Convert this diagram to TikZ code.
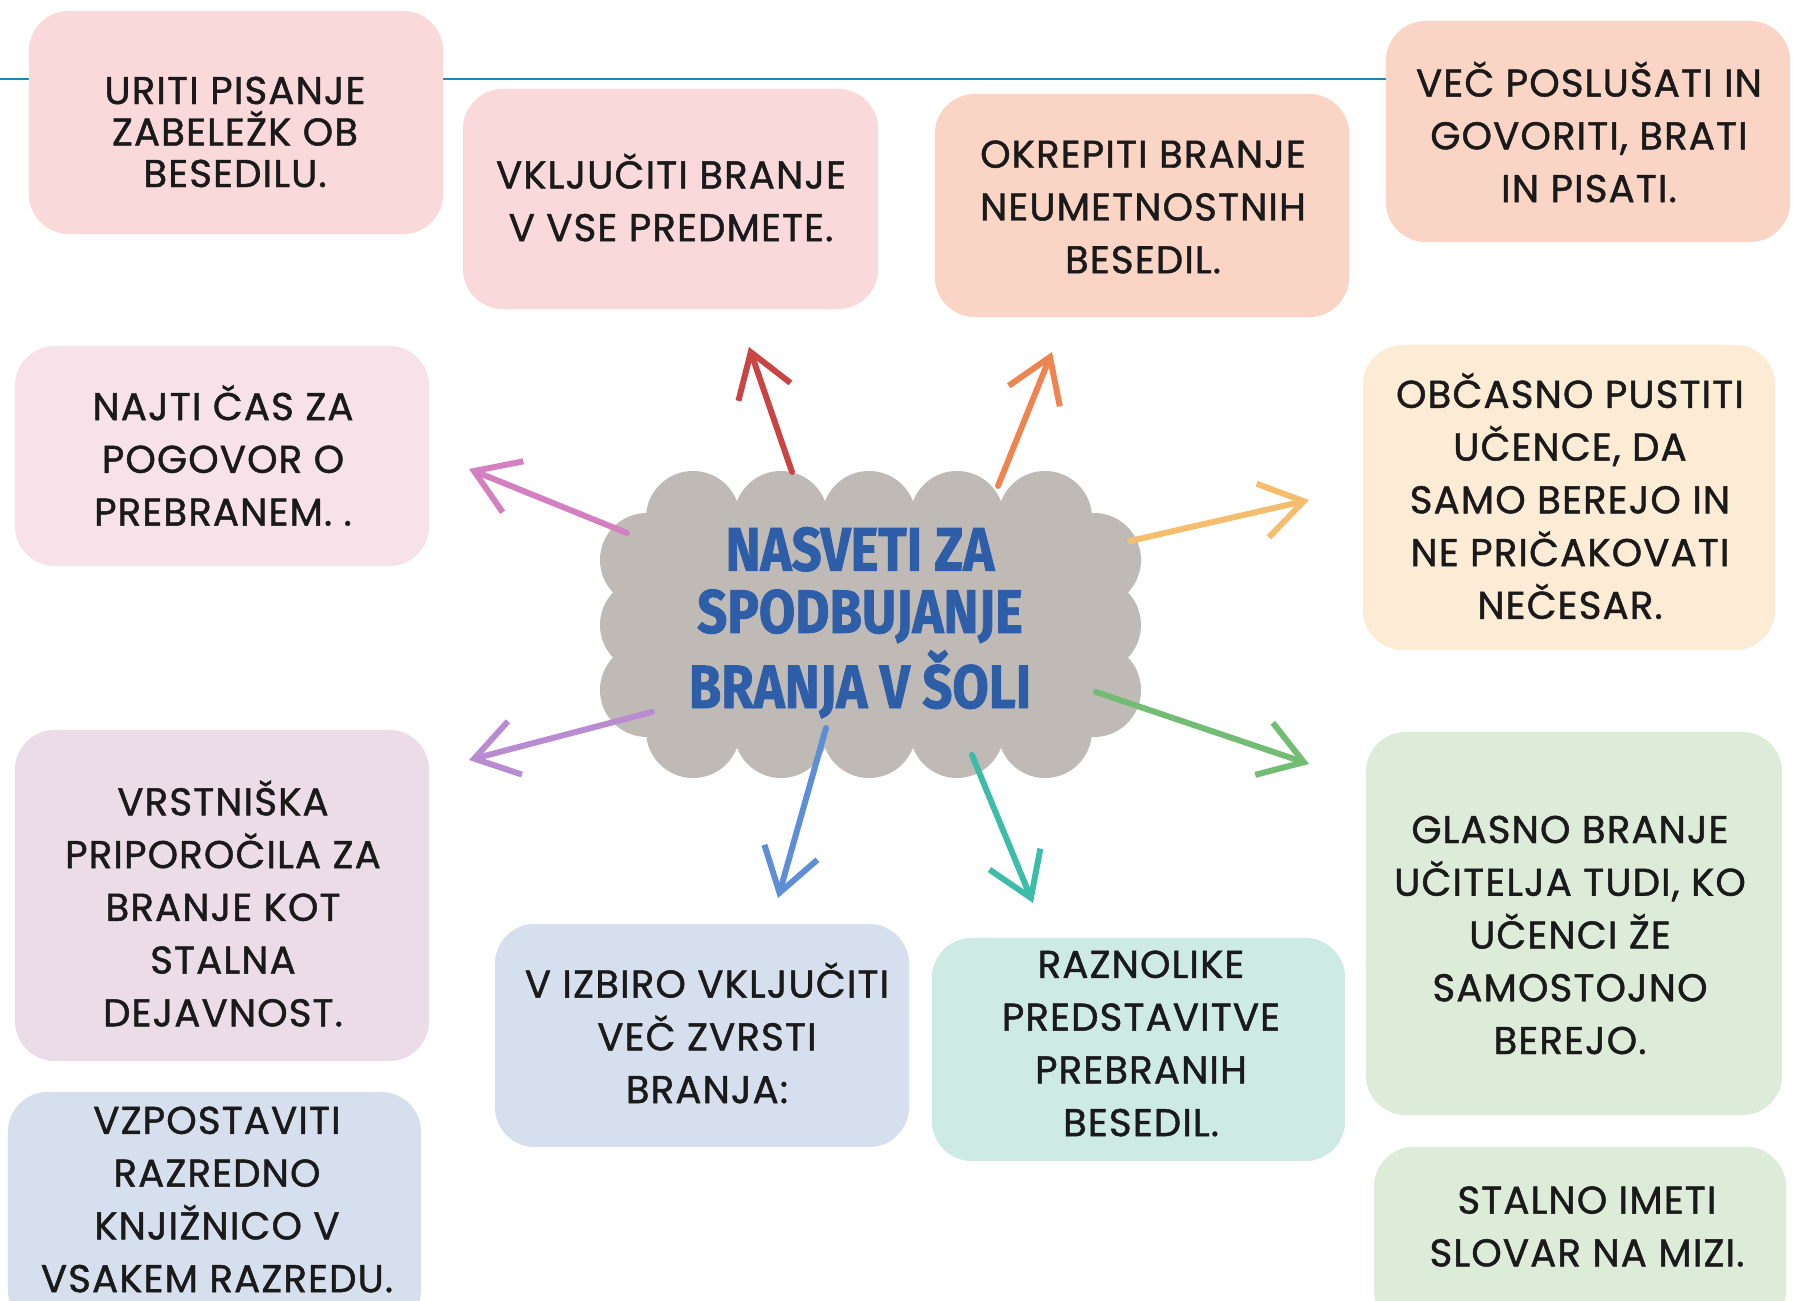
\documentclass[tikz,border=0pt]{standalone}
\usepackage{fontspec}
\usepackage{graphicx}
\usetikzlibrary{arrows.meta}
\newfontfamily\bodyfont{Poppins}[LetterSpace=3, FakeBold=1.2]
\newfontfamily\titlefont{Fira Sans}[FakeBold=1.5]
\definecolor{cpink}{HTML}{F9D9D9}
\definecolor{cpeach}{HTML}{FAD4C4}
\definecolor{clpink}{HTML}{F8E2E9}
\definecolor{ccream}{HTML}{FCEBD5}
\definecolor{clav}{HTML}{EBDCE7}
\definecolor{clblue}{HTML}{D6DFEE}
\definecolor{cmint}{HTML}{CDEAE3}
\definecolor{clgreen}{HTML}{DDEBD9}
\definecolor{ccloud}{HTML}{BFBAB6}
\definecolor{ctitle}{HTML}{2F5EA8}
\definecolor{ctext}{HTML}{1A1A1A}
\definecolor{cline}{HTML}{1B87B5}
\definecolor{ared}{HTML}{C94545}
\definecolor{aorange}{HTML}{EE8450}
\definecolor{apink}{HTML}{D47FC0}
\definecolor{alorange}{HTML}{F5BE6E}
\definecolor{apurple}{HTML}{B98BD1}
\definecolor{agreen}{HTML}{72BC74}
\definecolor{ablue}{HTML}{5E8ED6}
\definecolor{ateal}{HTML}{3DBCA9}
\tikzset{
  box/.style={rectangle, rounded corners=0.4cm, inner sep=0pt, draw=none},
  txt/.style={align=center, inner sep=0pt, text=ctext, font=\bodyfont\fontsize{11}{15}\selectfont},
  arr/.style={line width=1.7pt, line cap=round, -{Straight Barb[length=4.2mm, width=5.5mm, line width=1.7pt]}},
  cloudpart/.style={fill=ccloud, draw=none}
}
\begin{document}
\begin{tikzpicture}[x=0.01cm, y=-0.01cm]
\path[use as bounding box] (0,0) rectangle (1793,1301);
\clip (0,0) rectangle (1793,1301);
\fill[white] (0,0) rectangle (1793,1301);
% top line
\coordinate (l1) at (0,79);
\coordinate (l2) at (1390,79);
\draw[cline, line width=0.8pt] (l1) -- (l2);
% boxes
\node[box, fill=cpink, minimum width=4.14cm, minimum height=2.23cm] (b1) at (236,122.5) {};
\node[box, fill=cpink, minimum width=4.15cm, minimum height=2.20cm] (b2) at (670.5,199) {};
\node[box, fill=cpeach, minimum width=4.14cm, minimum height=2.23cm] (b3) at (1142,205.5) {};
\node[box, fill=cpeach, minimum width=4.04cm, minimum height=2.21cm] (b4) at (1588,131.5) {};
\node[box, fill=clpink, minimum width=4.14cm, minimum height=2.20cm] (b5) at (222,456) {};
\node[box, fill=ccream, minimum width=4.12cm, minimum height=3.05cm] (b6) at (1569,497.5) {};
\node[box, fill=clav, minimum width=4.14cm, minimum height=3.31cm] (b7) at (222,895.5) {};
\node[box, fill=clblue, minimum width=4.13cm, minimum height=2.38cm] (b8) at (214.5,1211) {};
\node[box, fill=clblue, minimum width=4.14cm, minimum height=2.23cm] (b9) at (702,1035.5) {};
\node[box, fill=cmint, minimum width=4.13cm, minimum height=2.23cm] (b10) at (1138.5,1049.5) {};
\node[box, fill=clgreen, minimum width=4.16cm, minimum height=3.83cm] (b11) at (1574,923.5) {};
\node[box, fill=clgreen, minimum width=4.12cm, minimum height=1.83cm] (b12) at (1580,1238.5) {};
% texts
\node[txt, font=\bodyfont\fontsize{11}{11.8}\selectfont] (t1) at (235,132) {URITI PISANJE\\ZABELEŽK OB\\BESEDILU.};
\node[txt] (t2) at (671,197.5) {VKLJUČITI BRANJE\\V VSE PREDMETE.};
\node[txt] (t3) at (1143,207) {OKREPITI BRANJE\\NEUMETNOSTNIH\\BESEDIL.};
\node[txt] (t4) at (1589,132) {VEČ POSLUŠATI IN\\GOVORITI, BRATI\\IN PISATI.};
\node[txt] (t5) at (223,455.5) {NAJTI ČAS ZA\\POGOVOR O\\PREBRANEM. .};
\node[txt] (t6) at (1570,496) {OBČASNO PUSTITI\\UČENCE, DA\\SAMO BEREJO IN\\NE PRIČAKOVATI\\NEČESAR.};
\node[txt] (t7) at (223,903.5) {VRSTNIŠKA\\PRIPOROČILA ZA\\BRANJE KOT\\STALNA\\DEJAVNOST.};
\node[txt] (t8) at (217,1199.5) {VZPOSTAVITI\\RAZREDNO\\KNJIŽNICO V\\VSAKEM RAZREDU.};
\node[txt] (t9) at (707,1033) {V IZBIRO VKLJUČITI\\VEČ ZVRSTI\\BRANJA:};
\node[txt] (t10) at (1141,1043.5) {RAZNOLIKE\\PREDSTAVITVE\\PREBRANIH\\BESEDIL.};
\node[txt] (t11) at (1570,935) {GLASNO BRANJE\\UČITELJA TUDI, KO\\UČENCI ŽE\\SAMOSTOJNO\\BEREJO.};
\node[txt] (t12) at (1587,1226.5) {STALNO IMETI\\SLOVAR NA MIZI.};
% cloud
\fill[cloudpart] (647,518) rectangle (1094,731);
\foreach \cx in {693,781,869,957,1045} {
  \fill[cloudpart] (\cx,518) circle (0.47cm);
  \fill[cloudpart] (\cx,731) circle (0.47cm);
}
\foreach \cy in {560,625,690} {
  \fill[cloudpart] (647,\cy) circle (0.47cm);
  \fill[cloudpart] (1094,\cy) circle (0.47cm);
}
\node[inner sep=0pt, text=ctitle, align=center, font=\titlefont\bfseries\fontsize{17.4}{18.2}\selectfont] (title) at (860,626.5) {\scalebox{0.86}[1]{\begin{tabular}{@{}c@{}}NASVETI ZA\\[-0.5pt]SPODBUJANJE\\[-0.5pt]BRANJA V ŠOLI\end{tabular}}};
% arrows
\coordinate (s1) at (792,472); \coordinate (e1) at (749,347);
\coordinate (s2) at (998,486); \coordinate (e2) at (1052,352);
\coordinate (s3) at (627,533); \coordinate (e3) at (469,469);
\coordinate (s4) at (1130,541); \coordinate (e4) at (1309,500);
\coordinate (s5) at (652,712); \coordinate (e5) at (469,760);
\coordinate (s6) at (1096,692); \coordinate (e6) at (1309,764);
\coordinate (s7) at (826,728); \coordinate (e7) at (778,898);
\coordinate (s8) at (972,755); \coordinate (e8) at (1033,903);
\draw[arr, ared] (s1) -- (e1);
\draw[arr, aorange] (s2) -- (e2);
\draw[arr, apink] (s3) -- (e3);
\draw[arr, alorange] (s4) -- (e4);
\draw[arr, apurple] (s5) -- (e5);
\draw[arr, agreen] (s6) -- (e6);
\draw[arr, ablue] (s7) -- (e7);
\draw[arr, ateal] (s8) -- (e8);
\end{tikzpicture}
\end{document}
